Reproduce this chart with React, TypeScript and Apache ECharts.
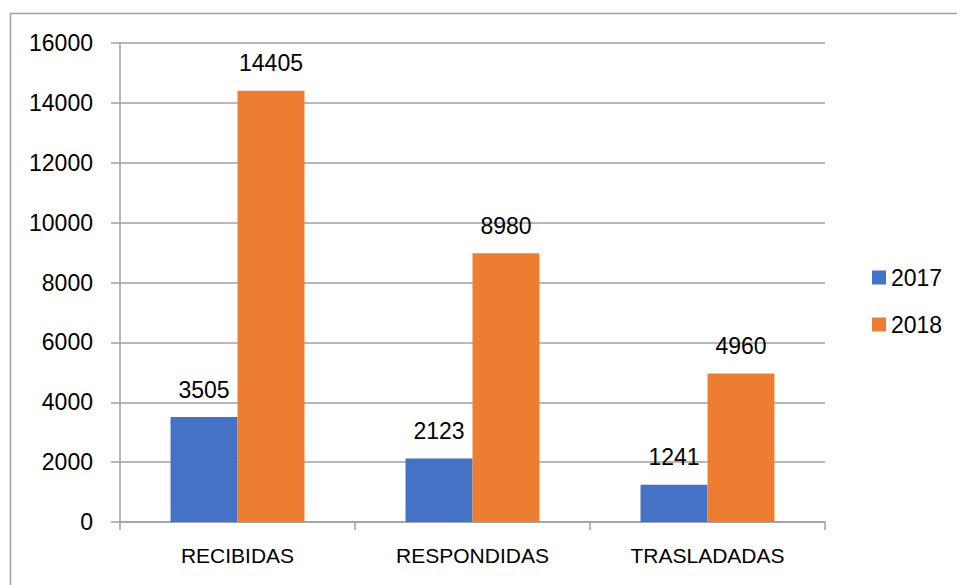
import React, { useEffect, useRef } from "react";
import * as echarts from "echarts";

const categories = ["RECIBIDAS", "RESPONDIDAS", "TRASLADADAS"];
const seriesNames = ["2017", "2018"];
const values2017 = [3505, 2123, 1241];
const values2018 = [14405, 8980, 4960];
const colors = ["#4472C4", "#ED7D31"];

const FONT = "Liberation Sans, Arial, sans-serif";

export default function App() {
  const ref = useRef<HTMLDivElement>(null);
  useEffect(() => {
    if (!ref.current) return;
    const chart = echarts.init(ref.current, undefined, { renderer: "svg" });
    const labelCfg = {
      show: true,
      position: "top" as const,
      distance: 16,
      color: "#000",
      fontSize: 23,
      fontFamily: FONT,
    };
    chart.setOption({
      animation: false,
      backgroundColor: "#fff",
      textStyle: { fontFamily: FONT },
      graphic: [
        {
          type: "rect",
          shape: { x: 10.5, y: 13.5, width: 1200, height: 1200 },
          style: { fill: "none", stroke: "#a0a0a0", lineWidth: 1.5 },
          silent: true,
        },
      ],
      grid: { left: 120, right: 132, top: 43, bottom: 63, containLabel: false },
      legend: {
        orient: "vertical",
        left: 867,
        top: 261,
        itemWidth: 14,
        itemHeight: 14,
        itemGap: 24,
        icon: "rect",
        textStyle: { fontSize: 23, color: "#000", fontFamily: FONT },
        data: seriesNames,
      },
      xAxis: {
        type: "category",
        data: categories,
        axisLine: { lineStyle: { color: "#a0a0a0", width: 1.5 } },
        axisTick: { show: true, length: 8, alignWithLabel: false, lineStyle: { color: "#a0a0a0", width: 1.5 } },
        axisLabel: { fontSize: 21, color: "#000", fontFamily: FONT, margin: 23 },
      },
      yAxis: {
        type: "value",
        min: 0,
        max: 16000,
        interval: 2000,
        axisLine: { show: true, lineStyle: { color: "#a0a0a0", width: 1.5 } },
        axisTick: { show: true, length: 9, lineStyle: { color: "#a0a0a0", width: 1.5 } },
        axisLabel: {
          fontSize: 23,
          color: "#000",
          fontFamily: FONT,
          margin: 27,
          formatter: (v: number) => String(v),
        },
        splitLine: { show: true, lineStyle: { color: "#a0a0a0", width: 1.5 } },
      },
      series: [
        {
          name: seriesNames[0],
          type: "bar",
          data: values2017,
          itemStyle: { color: colors[0] },
          barGap: "0%",
          barCategoryGap: "43%",
          label: labelCfg,
        },
        {
          name: seriesNames[1],
          type: "bar",
          data: values2018,
          itemStyle: { color: colors[1] },
          barGap: "0%",
          barCategoryGap: "43%",
          label: labelCfg,
        },
      ],
    });
    return () => chart.dispose();
  }, []);
  return (
    <div
      ref={ref}
      style={{ position: "fixed", left: 0, top: 0, width: 957, height: 585, background: "#fff" }}
    />
  );
}
